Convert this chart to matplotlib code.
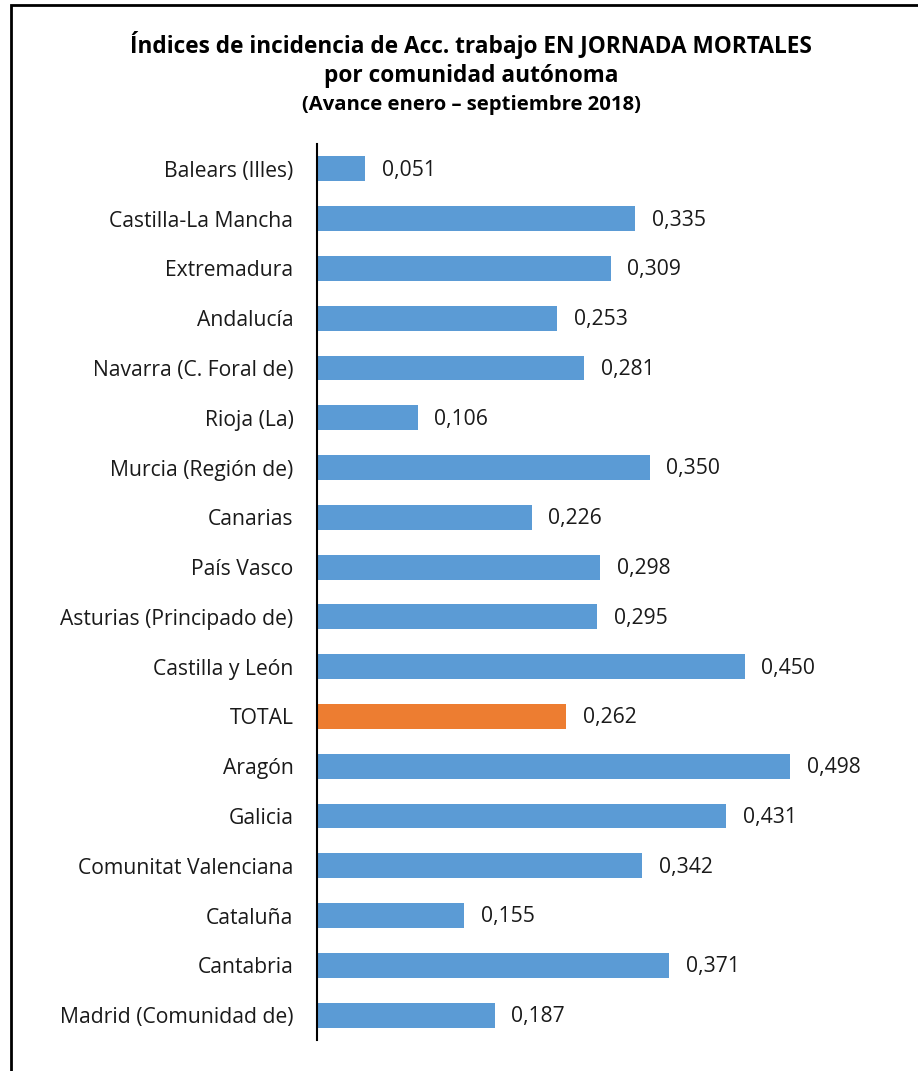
import matplotlib.pyplot as plt
from matplotlib.patches import Rectangle

# Data (top to bottom as shown)
regions = ['Balears (Illes)', 'Castilla-La Mancha', 'Extremadura', 'Andalucía',
           'Navarra (C. Foral de)', 'Rioja (La)', 'Murcia (Región de)', 'Canarias',
           'País Vasco', 'Asturias (Principado de)', 'Castilla y León', 'TOTAL',
           'Aragón', 'Galicia', 'Comunitat Valenciana', 'Cataluña', 'Cantabria',
           'Madrid (Comunidad de)']
values = [0.051, 0.335, 0.309, 0.253, 0.281, 0.106, 0.350, 0.226, 0.298, 0.295,
          0.450, 0.262, 0.498, 0.431, 0.342, 0.155, 0.371, 0.187]
labels = ['0,051', '0,335', '0,309', '0,253', '0,281', '0,106', '0,350', '0,226',
          '0,298', '0,295', '0,450', '0,262', '0,498', '0,431', '0,342', '0,155',
          '0,371', '0,187']

BLUE = '#5B9BD5'
ORANGE = '#ED7D31'
FONT = ['Open Sans', 'DejaVu Sans']
plt.rcParams['font.family'] = FONT

W, H = 918, 1071
fig = plt.figure(figsize=(W / 100, H / 100), dpi=100)
ax = fig.add_axes([317 / W, 31 / H, 570 / W, 896 / H])

colors = [ORANGE if r == 'TOTAL' else BLUE for r in regions]
ypos = list(range(len(regions)))
ax.barh(ypos, values, height=0.5, color=colors, zorder=2)
ax.set_ylim(len(regions) - 0.5, -0.5)
ax.set_xlim(0, 0.6)
ax.set_yticks(ypos)
ax.set_yticklabels(regions, fontsize=15.2, color='#1a1a1a')
ax.tick_params(axis='y', length=0, pad=17)
ax.set_xticks([])
for s in ['top', 'right', 'bottom']:
    ax.spines[s].set_visible(False)
ax.spines['left'].set_linewidth(1.5)
ax.spines['left'].set_color('black')

for y, v, lab in zip(ypos, values, labels):
    ax.annotate(lab, (v, y), xytext=(12, -1), textcoords='offset points',
                va='center', ha='left', fontsize=15.2, color='#1a1a1a')

fig.text(471 / W, 1 - 45 / H, 'Índices de incidencia de Acc. trabajo EN JORNADA MORTALES',
         ha='center', va='center', fontsize=16.3, fontweight='bold')
fig.text(471 / W, 1 - 76 / H, 'por comunidad autónoma',
         ha='center', va='center', fontsize=16.3, fontweight='bold')
fig.text(471 / W, 1 - 105 / H, '(Avance enero – septiembre 2018)',
         ha='center', va='center', fontsize=14.6, fontweight='bold')

# frame around the chart (cut off on right and bottom)
fig.patches.append(Rectangle((11 / W, -0.05), 1.0, 1 - 5 / H + 0.05,
                             transform=fig.transFigure, fill=False,
                             edgecolor='black', linewidth=2))

fig.savefig('out.png', dpi=100)
